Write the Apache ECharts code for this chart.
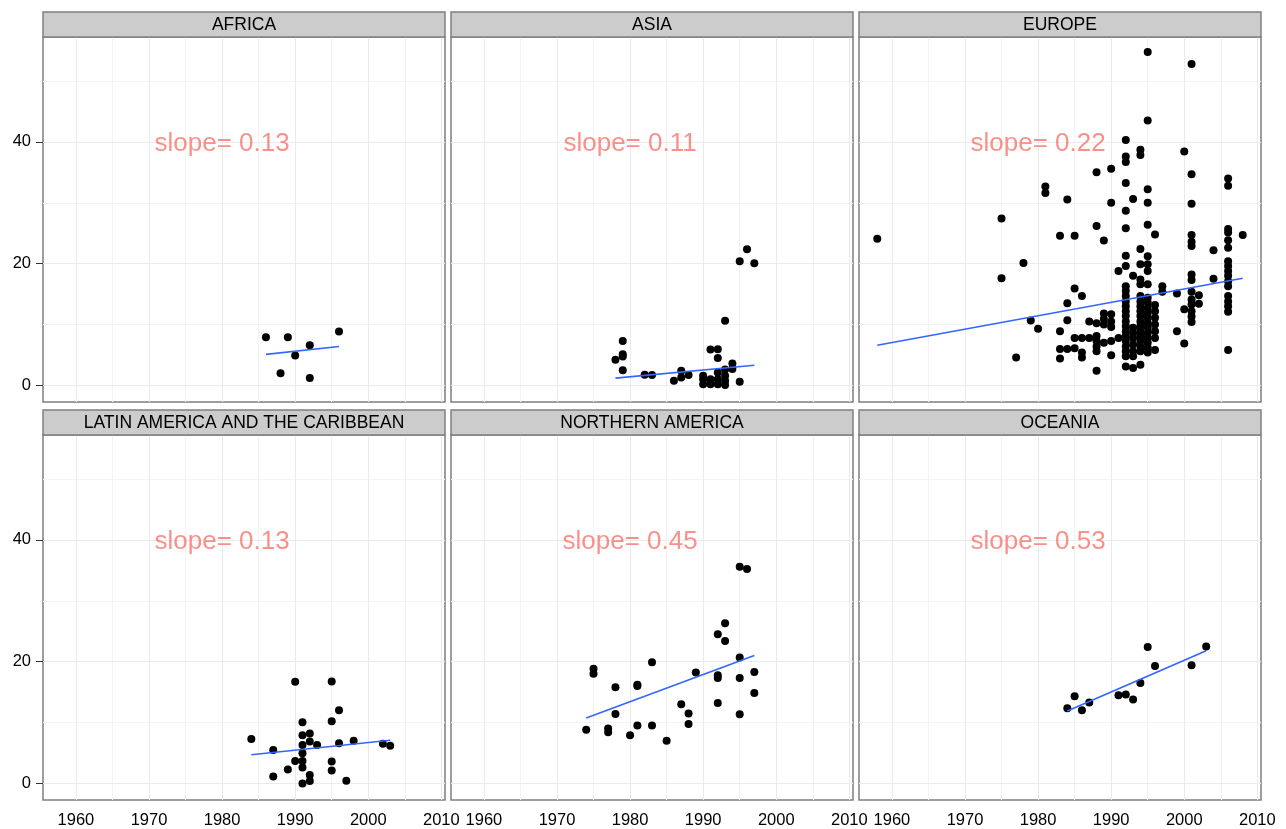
<!DOCTYPE html>
<html>
<head>
<meta charset="utf-8">
<script src="https://cdn.jsdelivr.net/npm/echarts@6/dist/echarts.min.js"></script>
<style>
html,body{margin:0;padding:0;background:#fff;}
#chart{width:1286px;height:829px;}
</style>
</head>
<body>
<div id="chart"></div>
<script>
// ---------------- DATA ----------------
const regions = ['AFRICA', 'ASIA', 'EUROPE', 'LATIN AMERICA AND THE CARIBBEAN', 'NORTHERN AMERICA', 'OCEANIA'];
const slopeLabels = ['slope= 0.13', 'slope= 0.11', 'slope= 0.22', 'slope= 0.13', 'slope= 0.45', 'slope= 0.53'];
const slopeLabelX = 1980;
const slopeLabelY = 40;

const xTicks = [1960, 1970, 1980, 1990, 2000, 2010];
const xMinor = [1965, 1975, 1985, 1995, 2005];
const yTicks = [0, 20, 40];
const yMinor = [10, 30, 50];
const xRange = [1955.5, 2010.5];
const yRange = [-2.725, 57.225];

const africaYears  = [1986, 1989, 1990, 1992, 1996, 1988, 1992];
const africaValues = [7.9, 7.9, 4.9, 6.6, 8.85, 2.0, 1.2];

const asiaYears  = [1996, 1995, 1997, 1993, 1979, 1979, 1979, 1978, 1979, 1982, 1983, 1986, 1987, 1987, 1988,
                    1991, 1992, 1992, 1994, 1994, 1995, 1990, 1990, 1990, 1991, 1991, 1992, 1992, 1992,
                    1993, 1993, 1993, 1993];
const asiaValues = [22.35, 20.4, 20.05, 10.6, 7.3, 5.1, 4.75, 4.2, 2.5, 1.75, 1.7, 0.75, 2.4, 1.3, 1.7,
                    5.9, 5.95, 4.5, 3.6, 2.7, 0.6, 1.6, 1.0, 0.2, 1.0, 0.2, 2.1, 1.0, 0.2,
                    2.6, 1.6, 0.75, 0.05];

const europeYears = [
  1995, 2001, 1995, 1992, 1994, 1994, 2000, 1992, 1992, 1988, 1990, 2001, 2006, 2006, 1981, 1981, 1984, 1992, 1995, 1990, 1993, 1995, 2001, 1992,
  1983, 1985, 1988, 1989, 1992, 1995, 1996, 2001, 2001, 2001, 2004, 2006, 2006, 2006, 2006, 2008, 1994, 1992, 1995, 1995, 1994, 1992, 1991, 1993, 1995, 1994, 1994, 1995, 1997, 1997, 1999,
  2001, 2001, 2001, 2001, 2001, 2001, 2001, 2001,
  2002, 2002, 2000, 1999, 2000, 2004,
  2006, 2006, 2006, 2006, 2006, 2006, 2006, 2006, 2006, 2006, 2006,
  1985, 1986, 1984, 1984, 1983, 1983, 1983, 1984, 1985, 1985, 1986, 1987, 1986, 1986, 1987,
  1988, 1988, 1988, 1988, 1988, 1988,
  1989, 1989, 1989, 1989,
  1990, 1990, 1990, 1990, 1990,
  1991,
  1992, 1992, 1992, 1992, 1992, 1992, 1992, 1992, 1992, 1992, 1992, 1992, 1992, 1992, 1992, 1992,
  1993, 1993, 1993, 1993, 1993, 1993, 1993,
  1994, 1994, 1994, 1994, 1994, 1994, 1994, 1994, 1994, 1994, 1994, 1994, 1994,
  1995, 1995, 1995, 1995, 1995, 1995, 1995, 1995, 1995, 1995, 1995, 1995,
  1996, 1996, 1996, 1996, 1996, 1996, 1996,
  1958, 1975, 1978, 1975, 1979, 1980, 1977
];
const europeValues = [
  54.75, 52.8, 43.5, 40.3, 38.7, 37.85, 38.4, 37.6, 36.7, 35.0, 35.6, 34.7, 34.0, 32.8, 32.65, 31.6, 30.55, 33.25, 32.2, 30.0, 30.6, 30.0, 29.85, 28.7,
  24.6, 24.6, 26.2, 23.8, 25.8, 26.4, 24.8, 24.7, 23.6, 22.9, 22.2, 25.7, 25.1, 23.85, 22.6, 24.7, 22.4, 21.3, 21.2, 19.9, 19.9, 19.6, 18.8, 18.0, 18.8, 17.4, 16.6, 16.6, 16.3, 15.4, 15.1,
  18.2, 17.3, 15.4, 14.1, 13.3, 12.2, 11.3, 10.4,
  14.8, 13.4, 12.5, 8.9, 6.9, 17.5,
  20.4, 19.6, 18.8, 18.0, 17.1, 16.3, 14.7, 13.8, 13.0, 12.1, 5.8,
  15.9, 14.7, 13.5, 10.7, 8.9, 6.0, 4.4, 6.0, 6.1, 7.8, 7.8, 7.8, 5.4, 4.6, 10.5,
  10.2, 8.1, 7.3, 6.4, 5.6, 2.4,
  11.8, 10.9, 10.0, 7.0,
  11.7, 10.5, 9.6, 7.3, 4.95,
  7.8,
  16.3, 15.5, 14.7, 13.8, 13.0, 12.2, 11.4, 10.5, 9.7, 8.9, 8.1, 7.3, 6.4, 5.6, 4.8, 3.1,
  9.45, 8.6, 7.8, 6.7, 5.6, 4.8, 2.85,
  14.7, 13.8, 13.0, 12.2, 11.4, 10.5, 9.7, 8.9, 8.1, 7.3, 6.4, 5.6, 3.4,
  14.4, 13.6, 12.7, 11.9, 11.1, 10.3, 9.5, 8.6, 7.8, 7.0, 6.2, 5.4,
  13.2, 12.2, 11.1, 10.0, 8.9, 7.8, 5.8,
  24.1, 27.4, 20.1, 17.6, 10.65, 9.3, 4.6
];

const latamYears  = [1990, 1995, 1996, 1991, 1995, 1984, 1991, 1992, 1992, 1991, 1993, 1996, 1998, 2002, 2003,
                     1987, 1991, 1990, 1991, 1991, 1989, 1995, 1995, 1987, 1992, 1992, 1991, 1997];
const latamValues = [16.7, 16.75, 12.0, 10.05, 10.2, 7.3, 7.9, 8.2, 6.9, 6.3, 6.3, 6.6, 7.0, 6.5, 6.2,
                     5.5, 4.95, 3.7, 3.7, 2.6, 2.3, 3.6, 2.1, 1.15, 1.4, 0.4, 0.0, 0.45];

const northAmYears  = [1995, 1996, 1993, 1992, 1993, 1995, 1975, 1975, 1983, 1989, 1992, 1992, 1995, 1997, 1978,
                       1981, 1981, 1997, 1987, 1992, 1978, 1988, 1995, 1974, 1977, 1977, 1981, 1983, 1980, 1988, 1985];
const northAmValues = [35.6, 35.2, 26.3, 24.5, 23.4, 20.7, 18.85, 18.0, 19.9, 18.2, 17.75, 17.3, 17.3, 18.3, 15.8,
                       16.2, 16.0, 14.85, 13.0, 13.2, 11.4, 11.5, 11.35, 8.8, 9.0, 8.4, 9.5, 9.5, 7.9, 9.75, 7.0];

const oceaniaYears  = [1984, 1985, 1986, 1987, 1991, 1992, 1993, 1994, 1995, 1996, 2001, 2003];
const oceaniaValues = [12.35, 14.3, 12.0, 13.3, 14.5, 14.6, 13.8, 16.5, 22.4, 19.3, 19.4, 22.5];

// fitted regression lines: start/end years and values
const fitYears  = [[1986, 1996], [1978, 1997], [1958, 2008], [1984, 2003], [1974, 1997], [1984, 2003]];
const fitValues = [[5.1, 6.4], [1.2, 3.3], [6.6, 17.6], [4.7, 7.1], [10.75, 21.0], [11.9, 21.8]];

const yearsByRegion  = [africaYears, asiaYears, europeYears, latamYears, northAmYears, oceaniaYears];
const valuesByRegion = [africaValues, asiaValues, europeValues, latamValues, northAmValues, oceaniaValues];

// ---------------- LAYOUT ----------------
const panelLefts = [43, 451, 859];
const panelWidth = 402;
const panelTops = [37, 435];
const panelHeight = 365;
const stripTops = [12, 410];
const stripHeight = 25;
const FONT = '"Liberation Sans", Arial, Helvetica, sans-serif';

const grids = [], xAxes = [], yAxes = [], series = [], graphics = [];

for (let i = 0; i < 6; i++) {
  const row = Math.floor(i / 3), col = i % 3;
  const left = panelLefts[col], top = panelTops[row];
  grids.push({left: left, top: top, width: panelWidth, height: panelHeight,
    show: true, borderColor: '#7f7f7f', borderWidth: 1.5, backgroundColor: '#ffffff', containLabel: false});
  const showX = row === 1, showY = col === 0;
  xAxes.push({type: 'value', gridIndex: i, min: xRange[0], max: xRange[1],
    axisLine: {show: false}, splitLine: {show: false},
    axisTick: {show: showX, length: 7, customValues: xTicks, lineStyle: {color: '#333333', width: 1}},
    axisLabel: {show: showX, customValues: xTicks, margin: 12, fontSize: 16.5, color: '#000000', fontFamily: FONT,
      formatter: v => String(Math.round(v))}
  });
  yAxes.push({type: 'value', gridIndex: i, min: yRange[0], max: yRange[1],
    axisLine: {show: false}, splitLine: {show: false},
    axisTick: {show: showY, length: 7, customValues: yTicks, lineStyle: {color: '#333333', width: 1}},
    axisLabel: {show: showY, customValues: yTicks, margin: 12, fontSize: 16.5, color: '#000000', fontFamily: FONT,
      formatter: v => String(Math.round(v))}
  });

  // grid lines via markLine (drawn beneath the points)
  const gl = [];
  yMinor.forEach(v => gl.push({yAxis: v, lineStyle: {color: '#f3f3f3', width: 1, type: 'solid'}}));
  xMinor.forEach(v => gl.push({xAxis: v, lineStyle: {color: '#f3f3f3', width: 1, type: 'solid'}}));
  yTicks.forEach(v => gl.push({yAxis: v, lineStyle: {color: '#ebebeb', width: 1, type: 'solid'}}));
  xTicks.forEach(v => gl.push({xAxis: v, lineStyle: {color: '#ebebeb', width: 1, type: 'solid'}}));
  series.push({type: 'scatter', xAxisIndex: i, yAxisIndex: i, data: [], z: 1, silent: true,
    markLine: {silent: true, z: 1, symbol: 'none', label: {show: false}, animation: false, data: gl}});

  // points
  const pts = yearsByRegion[i].map((y, k) => [y, valuesByRegion[i][k]]);
  series.push({type: 'scatter', xAxisIndex: i, yAxisIndex: i, data: pts, symbolSize: 8,
    itemStyle: {color: '#000000', opacity: 1}, z: 3, silent: true});

  // fit line
  series.push({type: 'line', xAxisIndex: i, yAxisIndex: i,
    data: [[fitYears[i][0], fitValues[i][0]], [fitYears[i][1], fitValues[i][1]]],
    symbol: 'none', lineStyle: {color: '#3366FF', width: 1.6}, z: 4, silent: true});

  // slope label
  series.push({type: 'scatter', xAxisIndex: i, yAxisIndex: i, data: [[slopeLabelX, slopeLabelY]],
    symbolSize: 0, z: 5, silent: true,
    label: {show: true, position: 'inside', offset: [0, 2], formatter: slopeLabels[i], color: '#F8766D',
      fontSize: 26, fontFamily: FONT}});

  // strip
  graphics.push({type: 'rect', shape: {x: left, y: stripTops[row], width: panelWidth, height: stripHeight},
    style: {fill: '#cccccc', stroke: '#7f7f7f', lineWidth: 1.5}, z: 10});
  graphics.push({type: 'text', x: left + panelWidth / 2, y: stripTops[row] + stripHeight / 2 + 1,
    style: {text: regions[i], fill: '#000000', font: '17.5px ' + FONT, textAlign: 'center', textVerticalAlign: 'middle'}, z: 11});
}

const chart = echarts.init(document.getElementById('chart'), null, {renderer: 'canvas'});
chart.setOption({
  animation: false,
  backgroundColor: '#ffffff',
  grid: grids, xAxis: xAxes, yAxis: yAxes, series: series, graphic: graphics
});
</script>
</body>
</html>
